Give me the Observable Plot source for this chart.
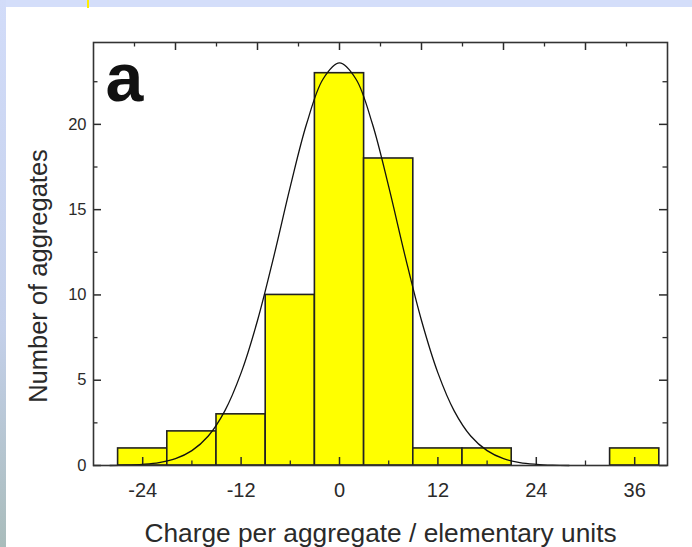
<!DOCTYPE html>
<html>
<head>
<meta charset="utf-8">
<script src="https://cdn.jsdelivr.net/npm/d3@7"></script>
<script src="https://cdn.jsdelivr.net/npm/@observablehq/plot@0.6"></script>
<style>
  html, body { margin: 0; padding: 0; background: #ffffff; }
  #page { position: relative; width: 692px; height: 547px; overflow: hidden; background: #ffffff; font-family: "Liberation Sans", Arial, sans-serif; }
  #bgTop { position: absolute; left: 0; top: 0; width: 692px; height: 7px; background: #d4defa; }
  #bgLeft { position: absolute; left: 0; top: 0; width: 6px; height: 547px; background: linear-gradient(#d2dcf9, #c4d0ea 60%, #a9bcbb); }
  #mark { position: absolute; left: 87px; top: 0; width: 2px; height: 8px; background: #ffee00; }
  #chart { position: absolute; left: 0; top: 0; }
</style>
</head>
<body>
<div id="page">
  <div id="bgTop"></div>
  <div id="bgLeft"></div>
  <div id="mark"></div>
  <div id="chart"></div>
</div>
<script>
// Histogram: bin centres (width 6) and counts
const binCenters = [-24, -18, -12, -6, 0, 6, 12, 18, 36];
const binWidth = 6;
const counts = [1, 2, 3, 10, 23, 18, 1, 1, 1];

// Fitted curve
const fitX = [-28, -26, -24, -22, -20, -18, -16, -14, -12, -10, -8, -6, -4, -2, 0, 2, 4, 6, 8, 10, 12, 14, 16, 18, 20, 22, 24, 26, 28];
const fitY = [0.0, 0.02, 0.07, 0.17, 0.40, 0.87, 1.73, 3.19, 5.43, 8.50, 12.28, 16.35, 20.05, 22.66, 23.6, 22.66, 20.05, 16.35, 12.28, 8.50, 5.43, 3.19, 1.73, 0.87, 0.40, 0.17, 0.07, 0.02, 0.0];

// Axis ticks
const xMajor = [-24, -12, 0, 12, 24, 36];
const xMinor = [-18, -6, 6, 18, 30];
const topMajor = [-20, -10, 0, 10, 20, 30];
const topMinor = [-25, -15, -5, 5, 15, 25, 35];
const yMajor = [0, 5, 10, 15, 20];
const yMinor = [2.5, 7.5, 12.5, 17.5, 22.5];

const xLabel = "Charge per aggregate / elementary units";
const yLabel = "Number of aggregates";
const panelLabel = "a";

const bars = binCenters.map((c, i) => ({x1: c - binWidth / 2, x2: c + binWidth / 2, count: counts[i]}));
const fit = fitX.map((x, i) => ({x, y: fitY[i]}));

const W = 692, H = 547;
const mL = 93, mR = 25, mT = 42, mB = 82;
const iW = W - mL - mR, iH = H - mT - mB;
const majorLen = 8, minorLen = 4.5;
const ink = "#2a2a2a";
const font = "'Liberation Sans', Arial, sans-serif";

const chart = Plot.plot({
  width: W,
  height: H,
  marginLeft: mL,
  marginRight: mR,
  marginTop: mT,
  marginBottom: mB,
  style: {background: "transparent", fontFamily: font, color: ink},
  x: {domain: [-30, 40]},
  y: {domain: [0, 24.8]},
  marks: [
    Plot.rectY(bars, {x1: "x1", x2: "x2", y1: 0, y2: "count", fill: "#ffff00", stroke: "#222", strokeWidth: 1.6}),
    // bottom ticks (inward)
    Plot.tickX(xMajor, {x: d => d, insetTop: iH - majorLen, stroke: ink, strokeWidth: 1.5}),
    Plot.tickX(xMinor, {x: d => d, insetTop: iH - minorLen, stroke: ink, strokeWidth: 1.3}),
    // top ticks (inward)
    Plot.tickX(topMajor, {x: d => d, insetBottom: iH - majorLen, stroke: ink, strokeWidth: 1.5}),
    Plot.tickX(topMinor, {x: d => d, insetBottom: iH - minorLen, stroke: ink, strokeWidth: 1.3}),
    // left ticks
    Plot.tickY(yMajor, {y: d => d, insetRight: iW - majorLen, stroke: ink, strokeWidth: 1.5}),
    Plot.tickY(yMinor, {y: d => d, insetRight: iW - minorLen, stroke: ink, strokeWidth: 1.3}),
    // right ticks
    Plot.tickY(yMajor, {y: d => d, insetLeft: iW - majorLen, stroke: ink, strokeWidth: 1.5}),
    Plot.tickY(yMinor, {y: d => d, insetLeft: iW - minorLen, stroke: ink, strokeWidth: 1.3}),
    Plot.line(fit, {x: "x", y: "y", curve: "catmull-rom", stroke: "#111", strokeWidth: 1.3}),
    Plot.frame({stroke: "#333", strokeWidth: 1.6}),
    Plot.axisX({ticks: xMajor, tickSize: 0, tickPadding: 17, tickFormat: d => String(d), fontSize: 20, label: null, fill: ink}),
    Plot.axisY({ticks: yMajor, tickSize: 0, tickPadding: 7, tickFormat: d => String(d), fontSize: 16.5, label: null, fill: ink}),
    Plot.text([panelLabel], {text: d => d, frameAnchor: "top-left", textAnchor: "start", lineAnchor: "bottom", dx: 12, dy: 58, fontSize: 68, fontWeight: "bold", fill: "#111"}),
    Plot.text([xLabel], {text: d => d, frameAnchor: "bottom", textAnchor: "middle", lineAnchor: "bottom", dy: 76, fontSize: 26.3, fill: ink}),
    Plot.text([yLabel], {text: d => d, frameAnchor: "left", textAnchor: "middle", lineAnchor: "middle", rotate: -90, dx: -55, dy: 22, fontSize: 25.5, fill: ink})
  ]
});
document.getElementById("chart").appendChild(chart);
</script>
</body>
</html>
